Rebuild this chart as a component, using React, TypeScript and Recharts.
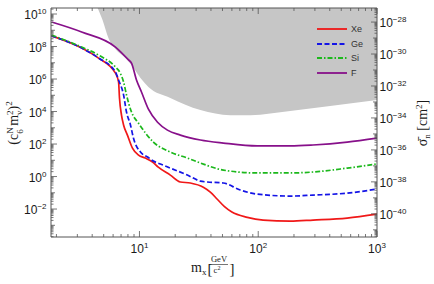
import React from 'react';
import { ComposedChart, Line, Area, XAxis, YAxis, Legend } from 'recharts';

// dark matter mass, GeV/c^2, and the (c6N mv^2)^2 limit
const xeMass = [1.82, 3.26, 4.52, 6.28, 6.67, 6.79, 7.06, 7.35, 7.92, 8.73, 9.82, 11.2, 12.9, 14.4, 18.2, 22.1, 26.8, 34.5, 39.5, 45.2, 52, 60, 80.9, 110, 186, 290, 560, 1000];
const xeLimit = [4.5e8, 8.1e7, 1.95e7, 2.3e6, 6.6e5, 6.8e4, 6.0e3, 1.5e3, 355, 56, 21, 13.8, 7.8, 3.8, 1.23, 0.46, 0.4, 0.22, 0.11, 0.04, 0.014, 0.0065, 0.0031, 0.0021, 0.0018, 0.0021, 0.0028, 0.0049];

const geMass = [1.82, 3.26, 4.52, 6.28, 6.67, 7.35, 7.78, 8.4, 8.9, 10.2, 11.7, 13.1, 15.0, 18.2, 25.3, 32.6, 37.3, 50.8, 70.6, 98, 186, 289, 561, 1000];
const geLimit = [4.5e8, 8.1e7, 1.95e7, 2.7e6, 8.7e5, 1.05e5, 9.3e3, 1.5e3, 234, 32, 15.8, 8.9, 5.9, 3.3, 1.23, 0.52, 0.46, 0.4, 0.148, 0.083, 0.063, 0.072, 0.095, 0.17];

const siMass = [1.82, 3.26, 4.52, 6.28, 6.9, 7.35, 7.78, 8.57, 9.8, 13.1, 18.2, 25.3, 32.6, 50.8, 98, 186, 289, 561, 1000];
const siLimit = [5.1e8, 9.3e7, 3.0e7, 5.5e6, 2.3e6, 6.6e5, 1.05e5, 9.3e3, 1.95e3, 132, 32, 13.8, 6.8, 2.5, 1.66, 1.66, 1.9, 3.3, 5.9];

const fMass = [1.82, 3.26, 6.28, 8.09, 8.57, 9.44, 10.4, 11.9, 14.2, 17.2, 22.1, 32.6, 50.8, 98, 186, 289, 561, 1000];
const fLimit = [3.2e9, 7.8e8, 9.3e7, 1.5e7, 9.5e6, 8.7e5, 1.6e5, 1.4e4, 2.2e3, 720, 355, 178, 115, 76, 76, 87, 132, 234];

// excluded region (grey): lower edge, top of frame above it
const excludedMass = [4.44, 4.89, 5.48, 6.28, 7.63, 8.57, 10.2, 11.9, 18.2, 32.6, 58.2, 85.7, 186, 403, 1000];
const excludedLow = [2.34e10, 4.3e9, 3.3e8, 7.1e7, 1.95e7, 7.2e6, 1.15e6, 3.2e5, 6.8e4, 1.23e4, 6.0e3, 6.0e3, 1.07e4, 2.2e4, 5.1e4];

const xDomain = [1.8, 1000];
const leftDomain = [10 ** -3.72, 10 ** 10.37];
const rightDomain = [10 ** -41.45, 10 ** -27.12];

const xLabelExps = [1, 2, 3];
const leftLabelExps = [-2, 0, 2, 4, 6, 8, 10];
const rightLabelExps = [-40, -38, -36, -34, -32, -30, -28];

const series = [
  { name: 'Xe', mass: xeMass, values: xeLimit, color: '#f01818', dash: undefined },
  { name: 'Ge', mass: geMass, values: geLimit, color: '#1414e6', dash: '5 2.5' },
  { name: 'Si', mass: siMass, values: siLimit, color: '#1cb81c', dash: '5 2 1.5 2' },
  { name: 'F', mass: fMass, values: fLimit, color: '#87108a', dash: undefined },
];

const excludedData = excludedMass.map((m, i) => ({ m, range: [excludedLow[i], leftDomain[1]] }));

// ticks: every 1..9 x decade inside the domain
const logTicks = (lo: number, hi: number, e0: number, e1: number) => {
  const out: number[] = [];
  for (let e = e0; e <= e1; e++) {
    for (let k = 1; k <= 9; k++) {
      const v = k * Math.pow(10, e);
      if (v >= lo && v <= hi) out.push(v);
    }
  }
  return out;
};
const xTicks = logTicks(xDomain[0], xDomain[1], 0, 3);
const leftTicks = logTicks(leftDomain[0], leftDomain[1], -4, 10);
const rightTicks = logTicks(rightDomain[0], rightDomain[1], -42, -28);

const AXIS = '#555';
const TEXT = '#1a1a1a';
const SANS = '"Liberation Sans", Arial, Helvetica, sans-serif';
const SERIF = '"Liberation Serif", "DejaVu Serif", "Times New Roman", serif';

const expOf = (v: number) => Math.round(Math.log10(v));
const isDecade = (v: number) => Math.abs(Math.log10(v) - expOf(v)) < 1e-6;
const supText = (e: number) => (e < 0 ? '\u2212' + Math.abs(e) : String(e));

const Power = ({ x, y, exp, anchor }: any) => (
  <text x={x} y={y} textAnchor={anchor} fontFamily={SANS} fontSize={12} fill={TEXT}>
    <tspan>10</tspan>
    <tspan dy={-5} fontSize={8}>{supText(exp)}</tspan>
  </text>
);

const BottomTick = ({ x, y, payload }: any) => {
  const v = payload.value;
  const major = isDecade(v);
  return (
    <g>
      <line x1={x} x2={x} y1={y} y2={y - (major ? 6 : 3)} stroke={AXIS} strokeWidth={0.8} />
      {major && xLabelExps.includes(expOf(v)) && <Power x={x} y={y + 16} exp={expOf(v)} anchor="middle" />}
    </g>
  );
};

const TopTick = ({ x, y, payload }: any) => {
  const major = isDecade(payload.value);
  return <line x1={x} x2={x} y1={y} y2={y + (major ? 6 : 3)} stroke={AXIS} strokeWidth={0.8} />;
};

const LeftTick = ({ x, y, payload }: any) => {
  const v = payload.value;
  const dec = isDecade(v);
  const labeled = dec && leftLabelExps.includes(expOf(v));
  const len = labeled ? 6 : dec ? 4 : 2.5;
  return (
    <g>
      <line x1={x} x2={x + len} y1={y} y2={y} stroke={AXIS} strokeWidth={0.8} />
      {labeled && <Power x={x - 4.5} y={y + 5} exp={expOf(v)} anchor="end" />}
    </g>
  );
};

const RightTick = ({ x, y, payload }: any) => {
  const v = payload.value;
  const dec = isDecade(v);
  const labeled = dec && rightLabelExps.includes(expOf(v));
  const len = labeled ? 6 : dec ? 4 : 2.5;
  return (
    <g>
      <line x1={x} x2={x - len} y1={y} y2={y} stroke={AXIS} strokeWidth={0.8} />
      {labeled && <Power x={x + 2.5} y={y + 5} exp={expOf(v)} anchor="start" />}
    </g>
  );
};

const renderLegend = () => (
  <div style={{ fontFamily: SANS, fontSize: 9, color: '#333' }}>
    {series.map((s) => (
      <div key={s.name} style={{ display: 'flex', alignItems: 'center', height: 14.5 }}>
        <svg width={32} height={6}>
          <line x1={1} x2={31} y1={3} y2={3} stroke={s.color} strokeWidth={1.8} strokeDasharray={s.dash} />
        </svg>
        <span style={{ marginLeft: 3 }}>{s.name}</span>
      </div>
    ))}
  </div>
);

const Titles = () => (
  <svg width={434} height={284} style={{ position: 'absolute', left: 0, top: 0, pointerEvents: 'none' }}>
    <text transform="translate(18,123) rotate(-90)" textAnchor="middle" fontFamily={SERIF} fontSize={14} fill={TEXT}>
      <tspan>(c</tspan>
      <tspan dy={-5} fontSize={9}>N</tspan>
      <tspan dx={-6.5} dy={9.5} fontSize={9}>6</tspan>
      <tspan dy={-4.5}> m</tspan>
      <tspan dy={-5} fontSize={9}>2</tspan>
      <tspan dx={-4.5} dy={8.5} fontSize={9}>v</tspan>
      <tspan dy={-3.5}>)</tspan>
      <tspan dy={-6} fontSize={9}>2</tspan>
    </text>
    <text transform="translate(427,123) rotate(-90)" textAnchor="middle" fontFamily={SERIF} fontSize={14} fill={TEXT}>
      <tspan>{'\u03C3\u0304'}</tspan>
      <tspan dy={3} fontSize={9}>n</tspan>
      <tspan dy={-3}> [cm</tspan>
      <tspan dy={-5} fontSize={9}>2</tspan>
      <tspan dy={5}>]</tspan>
    </text>
    <g fontFamily={SERIF} fill={TEXT}>
      <text x={191} y={272} fontSize={14}>
        m<tspan dy={3} fontSize={9}>x</tspan>
      </text>
      <text x={207.5} y={274} fontSize={15}>[</text>
      <text x={219} y={262} fontSize={8.5} textAnchor="middle">GeV</text>
      <line x1={210} x2={228} y1={264.5} y2={264.5} stroke={TEXT} strokeWidth={0.6} />
      <text x={217} y={273} fontSize={8.5} textAnchor="middle">
        c<tspan dy={-3} fontSize={6}>2</tspan>
      </text>
      <text x={229.5} y={274} fontSize={15}>]</text>
    </g>
  </svg>
);

export default function App() {
  return (
    <div style={{ position: 'absolute', left: 0, top: 0, width: 434, height: 284, background: '#fff' }}>
      <ComposedChart width={434} height={284} margin={{ top: 0, right: 0, bottom: 0, left: 0 }}>
        <XAxis
          xAxisId="b"
          dataKey="m"
          type="number"
          scale="log"
          domain={xDomain}
          allowDataOverflow
          ticks={xTicks}
          interval={0}
          tickSize={0}
          tickMargin={0}
          tick={<BottomTick />}
          height={47}
          axisLine={{ stroke: AXIS }}
        />
        <XAxis
          xAxisId="t"
          orientation="top"
          dataKey="m"
          type="number"
          scale="log"
          domain={xDomain}
          allowDataOverflow
          ticks={xTicks}
          interval={0}
          tickSize={0}
          tickMargin={0}
          tick={<TopTick />}
          height={8}
          axisLine={{ stroke: AXIS }}
        />
        <YAxis
          yAxisId="l"
          type="number"
          scale="log"
          domain={leftDomain}
          allowDataOverflow
          ticks={leftTicks}
          interval={0}
          tickSize={0}
          tickMargin={0}
          tick={<LeftTick />}
          width={51}
          axisLine={{ stroke: AXIS }}
        />
        <YAxis
          yAxisId="r"
          orientation="right"
          type="number"
          scale="log"
          domain={rightDomain}
          allowDataOverflow
          ticks={rightTicks}
          interval={0}
          tickSize={0}
          tickMargin={0}
          tick={<RightTick />}
          width={57}
          axisLine={{ stroke: AXIS }}
        />
        <Area
          xAxisId="t"
          yAxisId="l"
          data={excludedData}
          dataKey="range"
          type="monotone"
          fill="#c6c6c6"
          fillOpacity={1}
          stroke="none"
          isAnimationActive={false}
          legendType="none"
        />
        {series.map((s) => (
          <Line
            key={s.name}
            xAxisId="b"
            yAxisId="l"
            name={s.name}
            data={s.mass.map((m, i) => ({ m, v: s.values[i] }))}
            dataKey="v"
            type="monotone"
            stroke={s.color}
            strokeWidth={1.7}
            strokeDasharray={s.dash}
            dot={false}
            activeDot={false}
            isAnimationActive={false}
          />
        ))}
        <Legend
          layout="vertical"
          align="center"
          verticalAlign="middle"
          content={renderLegend}
          wrapperStyle={{ position: 'absolute', left: 316, top: 22, width: 60 }}
        />
      </ComposedChart>
      <Titles />
    </div>
  );
}
